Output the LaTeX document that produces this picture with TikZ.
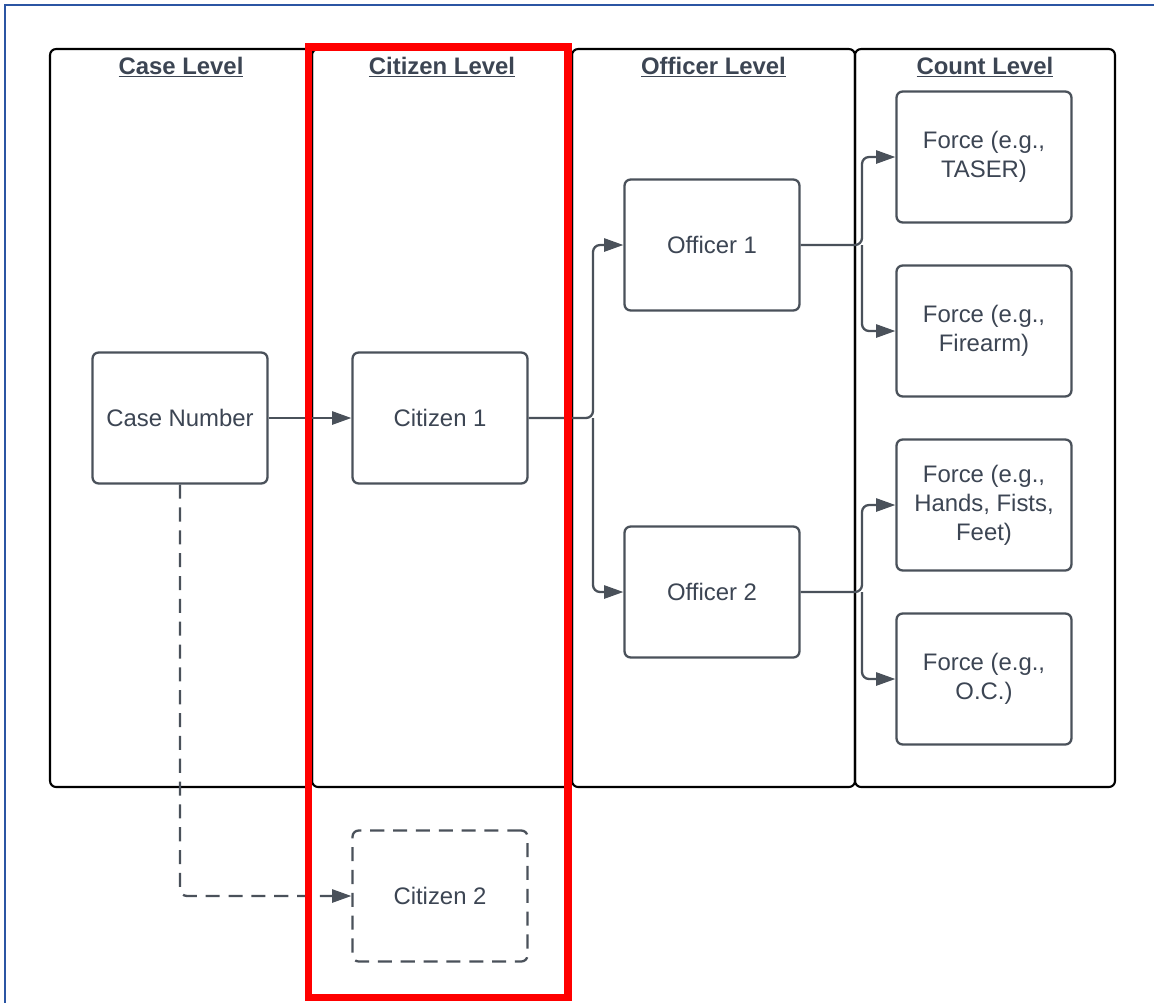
\documentclass[tikz,border=0pt]{standalone}
\usepackage{fontspec}
\setmainfont{Liberation Sans}
\usetikzlibrary{arrows.meta,positioning,calc}
\definecolor{SlateText}{HTML}{3C4553}
\definecolor{SlateLine}{HTML}{4A515A}
\definecolor{FrameBlue}{HTML}{2B55A3}
\definecolor{MarkRed}{HTML}{FF0000}
\tikzset{
  panel/.style={draw=black,line width=1.2pt,rounded corners=3.5pt},
  header/.style={anchor=base,text=SlateText,font=\fontsize{13.6}{16.5}\selectfont\bfseries},
  lvlbox/.style={draw=SlateLine,fill=white,line width=1.3pt,rounded corners=3.5pt,
    minimum width=3.5cm,minimum height=2.62cm,inner sep=2pt,align=center,
    text=SlateText,font=\fontsize{13.6}{16.5}\selectfont},
  link/.style={draw=SlateLine,line width=1.3pt,rounded corners=4pt,
    -{Triangle[length=11pt,width=7.5pt]}},
  dashlink/.style={dash pattern=on 8pt off 5pt}
}
\begin{document}
\begin{tikzpicture}[x=0.02cm,y=-0.02cm]
\useasboundingbox (0,0) rectangle (1154,1002);
\draw[FrameBlue,line width=1.2pt] (5,1010) -- (5,5) -- (1160,5);
% level panels
\foreach \xa/\xb/\lab/\nm in {50/312/Case Level/case,312/572/Citizen Level/cit,572/855/Officer Level/off,855/1115/Count Level/count}{
  \draw[panel] (\xa,49) rectangle (\xb,787);
  \node[header] (h\nm) at ({(\xa+\xb)/2},74) {\underline{\lab}};
}
% boxes
\node[lvlbox] (casenum) at (180,418) {Case Number};
\node[lvlbox] (cit1) at (440,418) {Citizen 1};
\node[lvlbox,dashlink] (cit2) at (440,896) {Citizen 2};
\node[lvlbox] (off1) at (712,245) {Officer 1};
\node[lvlbox] (off2) at (712,592) {Officer 2};
\node[lvlbox] (force1) at (984,157) {Force (e.g.,\\TASER)};
\node[lvlbox] (force2) at (984,331) {Force (e.g.,\\Firearm)};
\node[lvlbox] (force3) at (984,505) {Force (e.g.,\\Hands, Fists,\\Feet)};
\node[lvlbox] (force4) at (984,679) {Force (e.g.,\\O.C.)};
% forks
\coordinate (citfork) at (593,418);
\coordinate (o1fork) at (862,245);
\coordinate (o2fork) at (862,592);
% connectors
\draw[link] (casenum) -- (cit1);
\draw[link,dashlink] (casenum.south) |- (cit2.west);
\draw[link] (cit1.east) -- (citfork) |- (off1.west);
\draw[link] (citfork) |- (off2.west);
\draw[link] (off1.east) -- (o1fork) |- (force1.west);
\draw[link] (o1fork) |- (force2.west);
\draw[link] (off2.east) -- (o2fork) |- (force3.west);
\draw[link] (o2fork) |- (force4.west);
% highlight
\draw[MarkRed,line width=4pt] (308.5,47) rectangle (568,997);
\end{tikzpicture}
\end{document}
